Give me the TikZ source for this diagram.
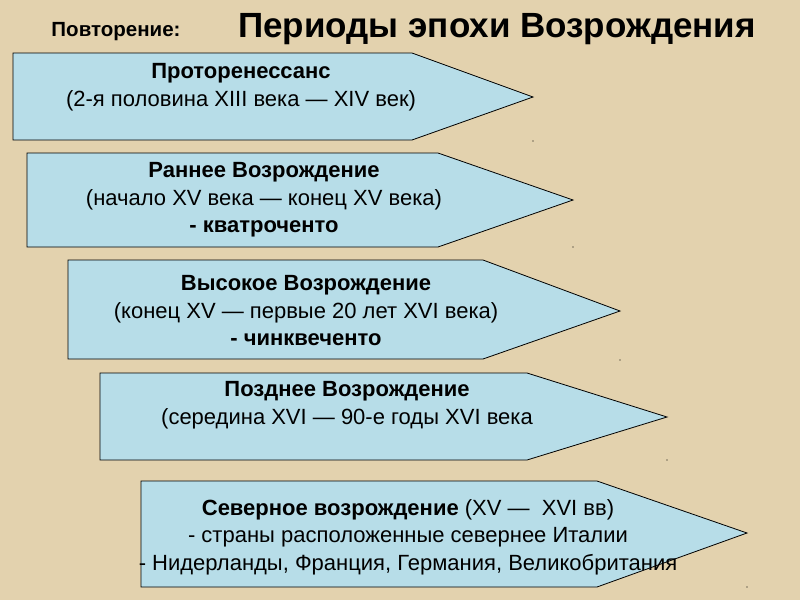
\documentclass[tikz,border=0pt]{standalone}
\usepackage{fontspec}
\setmainfont{Liberation Sans}
\definecolor{parch}{HTML}{E3D2AE}
\definecolor{boxblue}{HTML}{B7DDE8}
\tikzset{
  period/.style={draw=black, fill=boxblue, line width=0.8pt, line join=miter},
  ptext/.style={align=center, font=\fontsize{22}{27.5}\selectfont, inner sep=0pt, text=black},
  speck/.style={fill=black, inner sep=0pt, minimum size=1.4pt, circle}
}
\begin{document}
\begin{tikzpicture}[x=1pt,y=-1pt]
\fill[parch] (0,0) rectangle (800,600);
\useasboundingbox (0,0) rectangle (800,600);

% headings
\node[font=\fontsize{20.5}{25}\selectfont\bfseries, anchor=base, inner sep=0pt] (rep) at (116,36) {Повторение:};
\node[font=\fontsize{35}{42}\selectfont\bfseries, anchor=base, inner sep=0pt] (title) at (497,37) {Периоды эпохи Возрождения};

% arrow shapes
\draw[period] (13,53) -- (412,53) -- (533,97) -- (412,140) -- (13,140) -- cycle;
\draw[period] (27,153) -- (438,153) -- (573,200) -- (438,247) -- (27,247) -- cycle;
\draw[period] (68,260) -- (483,260) -- (620,311) -- (483,359) -- (68,359) -- cycle;
\draw[period] (100,373) -- (527,373) -- (667,417) -- (527,460) -- (100,460) -- cycle;
\draw[period] (141,481) -- (597,481) -- (747,533) -- (597,587) -- (141,587) -- cycle;

% specks at lower right of each shape
\node[speck] (s1) at (533,141) {};
\node[speck] (s2) at (573,247) {};
\node[speck] (s3) at (620,360) {};
\node[speck] (s4) at (667,460) {};
\node[speck] (s5) at (747,587) {};

% texts
\node[ptext] (t1) at (241,87) {\textbf{Проторенессанс}\\(2-я половина XIII века — XIV век)};
\node[ptext] (t2) at (264,200) {\textbf{Раннее Возрождение}\\(начало XV века — конец XV века)\\\textbf{- кватроченто}};
\node[ptext] (t3) at (306,311) {\textbf{Высокое Возрождение}\\(конец XV — первые 20 лет XVI века)\\\textbf{- чинквеченто}};
\node[ptext] (t4) at (347,405) {\textbf{Позднее Возрождение}\\(середина XVI — 90-е годы XVI века};
\node[ptext] (t5) at (408,537) {\textbf{Северное возрождение} (XV —\ \ XVI вв)\\- страны расположенные севернее Италии\\- Нидерланды, Франция, Германия, Великобритания};
\end{tikzpicture}
\end{document}
